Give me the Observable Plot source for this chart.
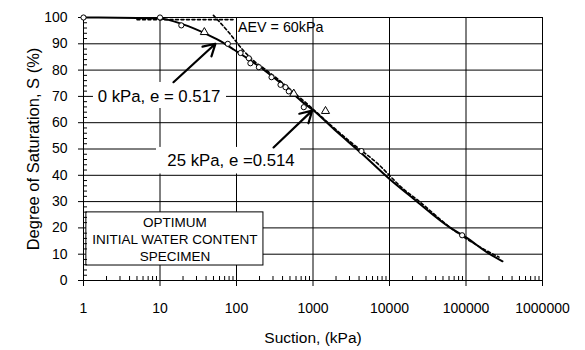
<!DOCTYPE html>
<html>
<head>
<meta charset="utf-8">
<script src="https://cdn.jsdelivr.net/npm/d3@7"></script>
<script src="https://cdn.jsdelivr.net/npm/@observablehq/plot@0.6"></script>
<style>
  body { margin: 0; background: #fff; }
  #chart svg { display: block; }
</style>
</head>
<body>
<div id="chart"></div>
<script>
// Fitted soil-water characteristic curve (solid)
const fitSuction    = [1, 5, 10, 20, 40, 60, 90, 150, 250, 400, 700, 1000, 2000, 4300, 10000, 20800, 62700, 100000, 200000, 300000];
const fitSaturation = [100, 99.8, 99.6, 97.4, 93.8, 91.2, 88, 83.8, 79.2, 74.5, 68.3, 64.8, 56.8, 48.4, 38.6, 31, 20, 16.4, 10.2, 7.3];

// Second fit with the air-entry tangent (dashed)
const dashSuction    = [50, 80, 120, 170, 230, 350, 600, 1000, 1530, 3240, 6900, 14650, 24200, 65900, 155000, 270000];
const dashSaturation = [100.8, 94.2, 87.8, 83.4, 80.6, 76.5, 70.8, 65.2, 60.3, 52.2, 44.6, 35.2, 30.2, 19.6, 12.6, 8.9];

// Saturated plateau used to locate the air-entry value (dashed)
const plateauSuction    = [5, 90];
const plateauSaturation = [99.2, 99.2];

// Measured points
const circleSuction    = [1, 10, 19, 77, 113, 145, 152, 196, 287, 376, 437, 483, 758, 4300, 89000];
const circleSaturation = [100, 100, 97, 90, 86.5, 84.5, 82.6, 81.1, 77.3, 74.4, 73.5, 71.9, 65.9, 49.2, 17.2];
const triangleSuction    = [38, 561, 1457];
const triangleSaturation = [94.4, 71, 64.4];

// Axis ticks
const xTicks = [1, 10, 100, 1000, 10000, 100000, 1000000];
const yTicks = [0, 10, 20, 30, 40, 50, 60, 70, 80, 90, 100];
const xMinor = xTicks.slice(0, -1).flatMap(d => [2, 3, 4, 5, 6, 7, 8, 9].map(k => k * d));
const yMinor = d3.range(0, 101, 2).filter(v => v % 10 !== 0);

// Annotation text
const aevLabel = "AEV = 60kPa";
const noteA = "0 kPa, e = 0.517";
const noteB = "25 kPa, e =0.514";
const specimenLabel = "OPTIMUM\nINITIAL WATER CONTENT\nSPECIMEN";

const toPoints = (xs, ys) => xs.map((x, i) => ({x, y: ys[i]}));
const fit = toPoints(fitSuction, fitSaturation);
const dashed = toPoints(dashSuction, dashSaturation);
const plateau = toPoints(plateauSuction, plateauSaturation);
const circles = toPoints(circleSuction, circleSaturation);
const triangles = toPoints(triangleSuction, triangleSaturation);

const font = "'Liberation Sans', Arial, Helvetica, sans-serif";

const chart = Plot.plot({
  width: 585,
  height: 350,
  marginLeft: 83,
  marginRight: 43,
  marginTop: 17,
  marginBottom: 70,
  style: {fontFamily: font, color: "#000", background: "#fff", overflow: "visible"},
  x: {type: "log", domain: [1, 1000000]},
  y: {domain: [0, 100]},
  marks: [
    Plot.gridX(xTicks, {stroke: "#000", strokeOpacity: 1, strokeWidth: 1}),
    Plot.gridY(yTicks, {stroke: "#000", strokeOpacity: 1, strokeWidth: 1}),
    // white panels behind the two void-ratio notes
    Plot.rect([{x1: 1.35, x2: 74, y1: 65.4, y2: 75.3}], {x1: "x1", x2: "x2", y1: "y1", y2: "y2", fill: "#fff"}),
    Plot.rect([{x1: 9, x2: 687, y1: 40.5, y2: 50.6}], {x1: "x1", x2: "x2", y1: "y1", y2: "y2", fill: "#fff"}),
    // specimen box
    Plot.rect([{x1: 1.09, x2: 225, y1: 5.7, y2: 25.9}], {x1: "x1", x2: "x2", y1: "y1", y2: "y2", fill: "#fff", stroke: "#000", strokeWidth: 1}),
    Plot.text([specimenLabel], {x: () => 15.7, y: () => 15.9, text: d => d, fontSize: 13.5, lineHeight: 1.24, textAnchor: "middle", lineAnchor: "middle", fill: "#000"}),
    Plot.frame({stroke: "#000", strokeWidth: 1}),
    // axes
    Plot.axisX({ticks: xTicks, tickFormat: d => String(d), tickSize: 6, tickPadding: 17, fontSize: 14, label: null, stroke: "#000"}),
    Plot.axisX(xMinor, {tickSize: -4, tickFormat: () => "", label: null}),
    Plot.axisY({ticks: yTicks, tickFormat: d => String(d), tickSize: 5, tickPadding: 11, fontSize: 14, label: null}),
    Plot.axisY(yMinor, {tickSize: -4, tickFormat: () => "", label: null}),
    // curves
    Plot.line(plateau, {x: "x", y: "y", stroke: "#000", strokeWidth: 1.6, strokeDasharray: "3,2.5"}),
    Plot.line(dashed, {x: "x", y: "y", stroke: "#000", strokeWidth: 1.6, strokeDasharray: "3,2.5", curve: "monotone-x"}),
    Plot.line(fit, {x: "x", y: "y", stroke: "#000", strokeWidth: 2, curve: "monotone-x"}),
    Plot.dot(circles, {x: "x", y: "y", r: 2.6, fill: "#fff", stroke: "#000", strokeWidth: 1}),
    Plot.dot(triangles, {x: "x", y: "y", r: 3, symbol: "triangle", fill: "#fff", stroke: "#000", strokeWidth: 1}),
    // notes and arrows
    Plot.arrow([{x1: 15, y1: 75.4, x2: 53, y2: 90}], {x1: "x1", y1: "y1", x2: "x2", y2: "y2", stroke: "#000", strokeWidth: 2.2, headLength: 9}),
    Plot.arrow([{x1: 305, y1: 50.6, x2: 975, y2: 64.6}], {x1: "x1", y1: "y1", x2: "x2", y2: "y2", stroke: "#000", strokeWidth: 2.2, headLength: 9}),
    Plot.text([noteA], {x: () => 9.7, y: () => 70, text: d => d, fontSize: 16.8, textAnchor: "middle", lineAnchor: "middle", fill: "#000"}),
    Plot.text([noteB], {x: () => 84.7, y: () => 45.6, text: d => d, fontSize: 16.8, textAnchor: "middle", lineAnchor: "middle", fill: "#000"}),
    Plot.text([aevLabel], {x: () => 104.6, y: () => 96.1, text: d => d, fontSize: 14.3, textAnchor: "start", lineAnchor: "middle", fill: "#000"}),
    // axis titles
    Plot.text(["Suction, (kPa)"], {frameAnchor: "bottom", dy: 58, text: d => d, fontSize: 15.5, textAnchor: "middle", lineAnchor: "middle", fill: "#000"}),
    Plot.text(["Degree of Saturation, S (%)"], {frameAnchor: "left", dx: -50, rotate: -90, text: d => d, fontSize: 16.5, textAnchor: "middle", lineAnchor: "middle", fill: "#000"})
  ]
});

document.getElementById("chart").appendChild(chart);
</script>
</body>
</html>
